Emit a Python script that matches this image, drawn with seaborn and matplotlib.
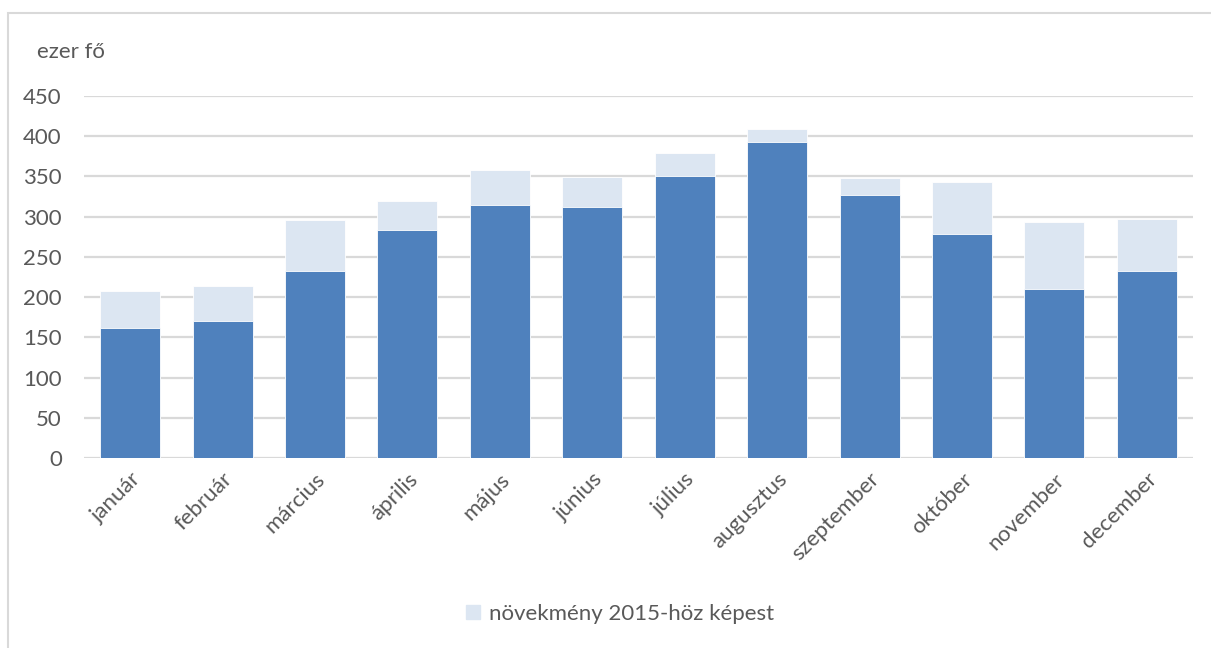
import matplotlib
matplotlib.use("Agg")
import matplotlib.pyplot as plt
import matplotlib.patches as mpatches
import seaborn as sns
import pandas as pd

# ── data ──────────────────────────────────────────────────────────────────────
months = ["január", "február", "március", "április", "május", "június",
          "július", "augusztus", "szeptember", "október", "november", "december"]
base_2015 = [161, 170, 232, 283, 314, 312, 351, 393, 327, 278, 210, 232]
total_2016 = [208, 214, 296, 320, 358, 349, 379, 409, 348, 343, 293, 297]
y_ticks = [0, 50, 100, 150, 200, 250, 300, 350, 400, 450]

legend_label = "növekmény 2015-höz képest"
unit_label = "ezer fő"

DARK = "#4F81BD"
LIGHT = "#DCE6F2"
TEXT = "#595959"
GRID = "#D9D9D9"
FS = 16

sns.set_theme(style="white")
plt.rcParams["font.family"] = ["Lato", "DejaVu Sans"]

df = pd.DataFrame({"month": months, "base": base_2015, "total": total_2016})

fig = plt.figure(figsize=(12.11, 6.48), dpi=100)
ax = fig.add_axes([84 / 1211, 1 - 458 / 648, (1193 - 84) / 1211, (458 - 96) / 648])

# light bar = total, dark bar drawn on top = 2015 level
sns.barplot(data=df, x="month", y="total", color=LIGHT, width=0.65,
            saturation=1, ax=ax, edgecolor="white", linewidth=0.6)
sns.barplot(data=df, x="month", y="base", color=DARK, width=0.65,
            saturation=1, ax=ax, edgecolor="white", linewidth=0.6)

ax.set_xlim(-0.5, len(months) - 0.5)
ax.set_ylim(0, 450)
ax.set_yticks(y_ticks)
ax.set_xlabel("")
ax.set_ylabel("")
ax.grid(axis="y", color=GRID, linewidth=1.6)
ax.set_axisbelow(True)
for s in ax.spines.values():
    s.set_visible(False)

ax.tick_params(axis="y", length=0, pad=16, labelsize=FS, labelcolor=TEXT)
ax.tick_params(axis="x", length=0, pad=8, labelsize=FS, labelcolor=TEXT)
plt.setp(ax.get_xticklabels(), rotation=45, ha="right", rotation_mode="anchor")

fig.text(37 / 1211, 1 - 52 / 648, unit_label, fontsize=FS, color=TEXT, va="center")

# legend (only the increment)
handle = mpatches.Patch(color=LIGHT, label=legend_label)
fig.legend(handles=[handle], loc="center", bbox_to_anchor=(620 / 1211, 1 - 614 / 648),
           frameon=False, fontsize=FS, labelcolor=TEXT, handlelength=0.6,
           handleheight=0.6, handletextpad=0.4)

# outer chart border
fig.patches.append(mpatches.Rectangle((7.5 / 1211, -0.05), 1.1, 1.05 - 13 / 648,
                                      transform=fig.transFigure, fill=False,
                                      edgecolor=GRID, linewidth=1.5))

fig.savefig("out.png", dpi=100)
